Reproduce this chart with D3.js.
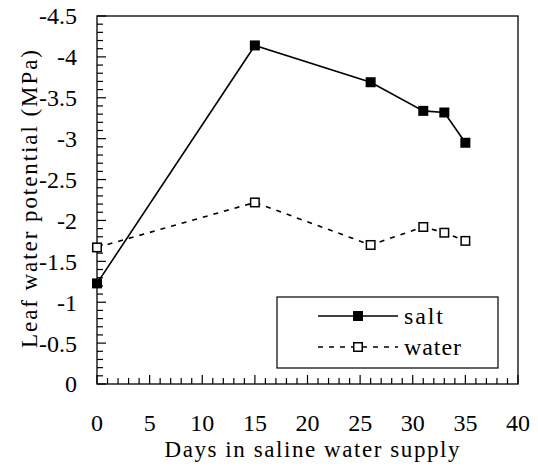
<!DOCTYPE html>
<html><head><meta charset="utf-8">
<script src="https://cdn.jsdelivr.net/npm/d3@7/dist/d3.min.js"></script>
<style>
body{margin:0;background:#fff;}
svg{display:block;}
svg text{font-family:"Liberation Serif","Times New Roman",serif;fill:#000;}
</style>
</head><body>
<svg id="c" width="538" height="467"></svg>
<script>
const days = [0, 15, 26, 31, 33, 35];
const salt = [-1.23, -4.14, -3.69, -3.34, -3.32, -2.95];
const water = [-1.67, -2.22, -1.70, -1.92, -1.85, -1.75];
const xTicks = [0, 5, 10, 15, 20, 25, 30, 35, 40];
const yTicks = [0, -0.5, -1, -1.5, -2, -2.5, -3, -3.5, -4, -4.5];
const seriesNames = ["salt", "water"];

const svg = d3.select("#c");
const L = 97, R = 518, T = 16, B = 384;
const FAM = "Liberation Serif";
const xs = d3.scaleLinear().domain([0, 40]).range([L, R]);
const ys = d3.scaleLinear().domain([0, -4.5]).range([B, T]);

function txt(sel, size) {
  return sel.attr("font-family", FAM).attr("font-size", size)
    .style("font-family", FAM).style("font-size", size + "px");
}

svg.append("rect").attr("x", L).attr("y", T).attr("width", R - L).attr("height", B - T)
  .attr("fill", "none").attr("stroke", "#000").attr("stroke-width", 1.3);

const yMinor = d3.range(0, 46).map(i => -i / 10);
svg.append("g").selectAll("line").data(yMinor).join("line")
  .attr("x1", L).attr("x2", (d, i) => L + (i % 5 === 0 ? 9 : 6))
  .attr("y1", d => ys(d)).attr("y2", d => ys(d))
  .attr("stroke", "#000").attr("stroke-width", 1.2);
const xMinor = d3.range(0, 41);
svg.append("g").selectAll("line").data(xMinor).join("line")
  .attr("x1", d => xs(d)).attr("x2", d => xs(d))
  .attr("y1", B).attr("y2", d => B - (d % 5 === 0 ? 9 : 6))
  .attr("stroke", "#000").attr("stroke-width", 1.2);

txt(svg.append("g").selectAll("text").data(yTicks).join("text")
  .attr("x", 77).attr("y", d => ys(d)).attr("dy", "0.35em")
  .attr("text-anchor", "end"), 24)
  .text(d => String(d));
txt(svg.append("g").selectAll("text").data(xTicks).join("text")
  .attr("x", d => xs(d)).attr("y", 431)
  .attr("text-anchor", "middle"), 24)
  .text(d => d);

txt(svg.append("text").attr("x", 312).attr("y", 457).attr("text-anchor", "middle"), 23)
  .attr("textLength", 295).attr("lengthAdjust", "spacing")
  .text("Days in saline water supply");
txt(svg.append("text").attr("transform", "translate(37,199) rotate(-90)").attr("text-anchor", "middle"), 23)
  .attr("textLength", 298).attr("lengthAdjust", "spacing")
  .text("Leaf water potential (MPa)");

const line = d3.line().x(d => xs(d[0])).y(d => ys(d[1]));
const sData = days.map((d, i) => [d, salt[i]]);
const wData = days.map((d, i) => [d, water[i]]);

svg.append("path").datum(wData).attr("d", line).attr("fill", "none")
  .attr("stroke", "#000").attr("stroke-width", 1.6).attr("stroke-dasharray", "5,6");
svg.append("path").datum(sData).attr("d", line).attr("fill", "none")
  .attr("stroke", "#000").attr("stroke-width", 1.6);

const S = 10;
svg.append("g").selectAll("rect").data(wData).join("rect")
  .attr("x", d => xs(d[0]) - S / 2 + 0.75).attr("y", d => ys(d[1]) - S / 2 + 0.75)
  .attr("width", S - 1.5).attr("height", S - 1.5)
  .attr("fill", "#fff").attr("stroke", "#000").attr("stroke-width", 1.5);
svg.append("g").selectAll("rect").data(sData).join("rect")
  .attr("x", d => xs(d[0]) - S / 2).attr("y", d => ys(d[1]) - S / 2)
  .attr("width", S).attr("height", S).attr("fill", "#000");

const lg = svg.append("g");
lg.append("rect").attr("x", 277).attr("y", 297).attr("width", 221).attr("height", 71)
  .attr("fill", "#fff").attr("stroke", "#000").attr("stroke-width", 1.2);
const rows = [316, 347];
const legLen = [39, 57];
seriesNames.forEach((name, i) => {
  const yy = rows[i];
  lg.append("line").attr("x1", 318).attr("x2", 398).attr("y1", yy).attr("y2", yy)
    .attr("stroke", "#000").attr("stroke-width", 1.6)
    .attr("stroke-dasharray", i === 1 ? "5,6" : null);
  if (i === 0) {
    lg.append("rect").attr("x", 353).attr("y", yy - 5).attr("width", 10).attr("height", 10).attr("fill", "#000");
  } else {
    lg.append("rect").attr("x", 353.75).attr("y", yy - 4.25).attr("width", 8.5).attr("height", 8.5)
      .attr("fill", "#fff").attr("stroke", "#000").attr("stroke-width", 1.5);
  }
  txt(lg.append("text").attr("x", 404).attr("y", yy).attr("dy", "0.32em"), 24)
    .attr("textLength", legLen[i]).attr("lengthAdjust", "spacing").text(name);
});
</script>
</body></html>
